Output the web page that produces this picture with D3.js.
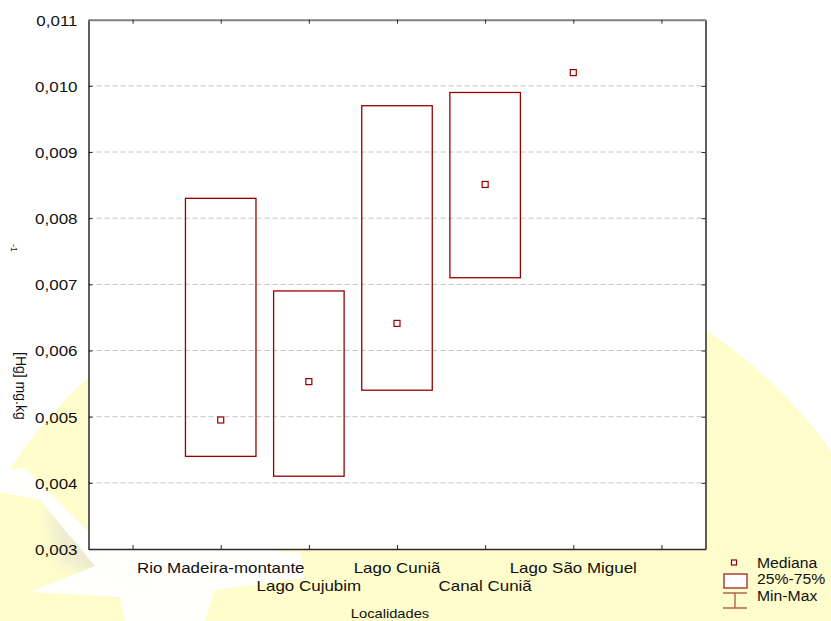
<!DOCTYPE html>
<html>
<head>
<meta charset="utf-8">
<script src="https://cdn.jsdelivr.net/npm/d3@7/dist/d3.min.js"></script>
<style>
  body { margin: 0; background: #fff; }
  svg text { font-family: "Liberation Sans", Arial, sans-serif; fill: #111; }
</style>
</head>
<body>
<svg id="chart" width="831" height="621"></svg>
<script>
// localidades (posições 1..5 no eixo, 0 e 6 ficam vazias)
var categories = ["Rio Madeira-montante", "Lago Cujubim", "Lago Cuniã", "Canal Cuniã", "Lago São Miguel"];
var q1 = [0.0044, 0.0041, 0.0054, 0.0071, null];
var q3 = [0.0083, 0.0069, 0.0097, 0.0099, null];
var medians = [0.00495, 0.00553, 0.00641, 0.00851, 0.0102];
var yTicks = [0.003, 0.004, 0.005, 0.006, 0.007, 0.008, 0.009, 0.010, 0.011];
var legendLabels = ["Mediana", "25%-75%", "Min-Max"];

var pLeft = 88.5, pRight = 705.5, pTop = 19.7, pBottom = 549;
var stretch = 1.13;
var red = "#990000";

var svg = d3.select("#chart");

// marca d'agua de fundo
var defs = svg.append("defs");
defs.append("filter").attr("id", "blur")
    .append("feGaussianBlur").attr("stdDeviation", 7);
svg.append("circle")
    .attr("cx", 427).attr("cy", 745).attr("r", 500)
    .attr("fill", "#fffdcc");
svg.append("polygon")
    .attr("points", "45,505 95,545 170,585 140,600 60,560")
    .attr("fill", "#ecebd0").attr("filter", "url(#blur)");
svg.append("polygon")
    .attr("points", "0,470 25,468 92,535 300,553 305,578 215,590 205,621 125,621 120,597 30,592 95,566 40,500 0,492")
    .attr("fill", "#ffffff").attr("opacity", 0.95);

// area do grafico
svg.append("rect")
    .attr("x", pLeft).attr("y", pTop)
    .attr("width", pRight - pLeft).attr("height", pBottom - pTop)
    .attr("fill", "#fff");

var y = d3.scaleLinear().domain([0.003, 0.011]).range([pBottom, pTop]);
var x = d3.scalePoint().domain(d3.range(7)).range([pLeft, pRight]).padding(0.5);
var boxW = x.step() * 0.8;

var fmt = d3.formatLocale({decimal: ",", thousands: ".", grouping: [3], currency: ["", ""]}).format(".3f");

// grade
svg.append("g").selectAll("line")
    .data(yTicks.slice(1, -1))
    .enter().append("line")
    .attr("x1", pLeft).attr("x2", pRight)
    .attr("y1", function(d) { return y(d); })
    .attr("y2", function(d) { return y(d); })
    .attr("stroke", "#c4c4c4")
    .attr("stroke-dasharray", "5,3");

// eixos
var gl = svg.append("g").attr("transform", "translate(" + pLeft + ",0)")
    .call(d3.axisLeft(y).tickValues(yTicks).tickFormat(fmt).tickSizeInner(-4).tickSizeOuter(0).tickPadding(11));
gl.selectAll("text")
    .attr("x", -11 / stretch)
    .attr("dy", "0.36em")
    .attr("transform", "scale(" + stretch + ",1)")
    .style("font-size", "15px");

var gr = svg.append("g").attr("transform", "translate(" + pRight + ",0)")
    .call(d3.axisRight(y).tickValues(yTicks).tickFormat("").tickSizeInner(-4).tickSizeOuter(0));
var gb = svg.append("g").attr("transform", "translate(0," + pBottom + ")")
    .call(d3.axisBottom(x).tickFormat("").tickSizeInner(-4).tickSizeOuter(0));
var gt = svg.append("g").attr("transform", "translate(0," + pTop + ")")
    .call(d3.axisTop(x).tickFormat("").tickSizeInner(-4).tickSizeOuter(0));

svg.selectAll(".domain").attr("stroke", "#2a2a2a").attr("stroke-width", 1.5);
gt.select(".domain").attr("stroke", "#808080").attr("stroke-width", 2);
svg.selectAll(".tick line").attr("stroke", "#2a2a2a");

// rotulos das localidades em duas linhas
svg.append("g").selectAll("text")
    .data(categories)
    .enter().append("text")
    .attr("text-anchor", "middle")
    .style("font-size", "15px")
    .attr("transform", function(d, i) {
        return "translate(" + x(i + 1) + "," + (i % 2 ? 590.5 : 572.5) + ") scale(" + stretch + ",1)";
    })
    .text(function(d) { return d; });

svg.append("text")
    .attr("text-anchor", "middle")
    .style("font-size", "13px")
    .attr("transform", "translate(390,617.5) scale(" + stretch + ",1)")
    .text("Localidades");

svg.append("text")
    .style("font-size", "14px")
    .attr("transform", "translate(16,352) rotate(90)")
    .text("[Hg] mg.kg");
svg.append("text")
    .style("font-size", "9px")
    .attr("transform", "translate(11,244) rotate(90)")
    .text("-1");

// caixas 25%-75%
svg.append("g").selectAll("rect")
    .data(categories.map(function(c, i) { return i; }).filter(function(i) { return q1[i] != null; }))
    .enter().append("rect")
    .attr("x", function(i) { return x(i + 1) - boxW / 2; })
    .attr("y", function(i) { return y(q3[i]); })
    .attr("width", boxW)
    .attr("height", function(i) { return y(q1[i]) - y(q3[i]); })
    .attr("fill", "none")
    .attr("stroke", red)
    .attr("stroke-width", 1.3);

// medianas
svg.append("g").selectAll("rect")
    .data(medians)
    .enter().append("rect")
    .attr("x", function(d, i) { return x(i + 1) - 3; })
    .attr("y", function(d) { return y(d) - 3; })
    .attr("width", 6).attr("height", 6)
    .attr("fill", "#fff")
    .attr("stroke", red)
    .attr("stroke-width", 1.2);

// legenda
var lg = svg.append("g");
lg.append("rect").attr("x", 731.5).attr("y", 560).attr("width", 5).attr("height", 5)
    .attr("fill", "#fff").attr("stroke", red).attr("stroke-width", 1.2);
lg.append("rect").attr("x", 724).attr("y", 574).attr("width", 23).attr("height", 14)
    .attr("fill", "#fff").attr("stroke", "#a83030").attr("stroke-width", 1.4);
lg.append("path").attr("d", "M723,593H747M735,593V608M723,608H747")
    .attr("fill", "none").attr("stroke", "#b0654f").attr("stroke-width", 1.4);
lg.selectAll("text")
    .data(legendLabels)
    .enter().append("text")
    .style("font-size", "15px")
    .attr("transform", function(d, i) { return "translate(757," + (567.5 + i * 16.5) + ") scale(1.05,1)"; })
    .text(function(d) { return d; });
</script>
</body>
</html>
